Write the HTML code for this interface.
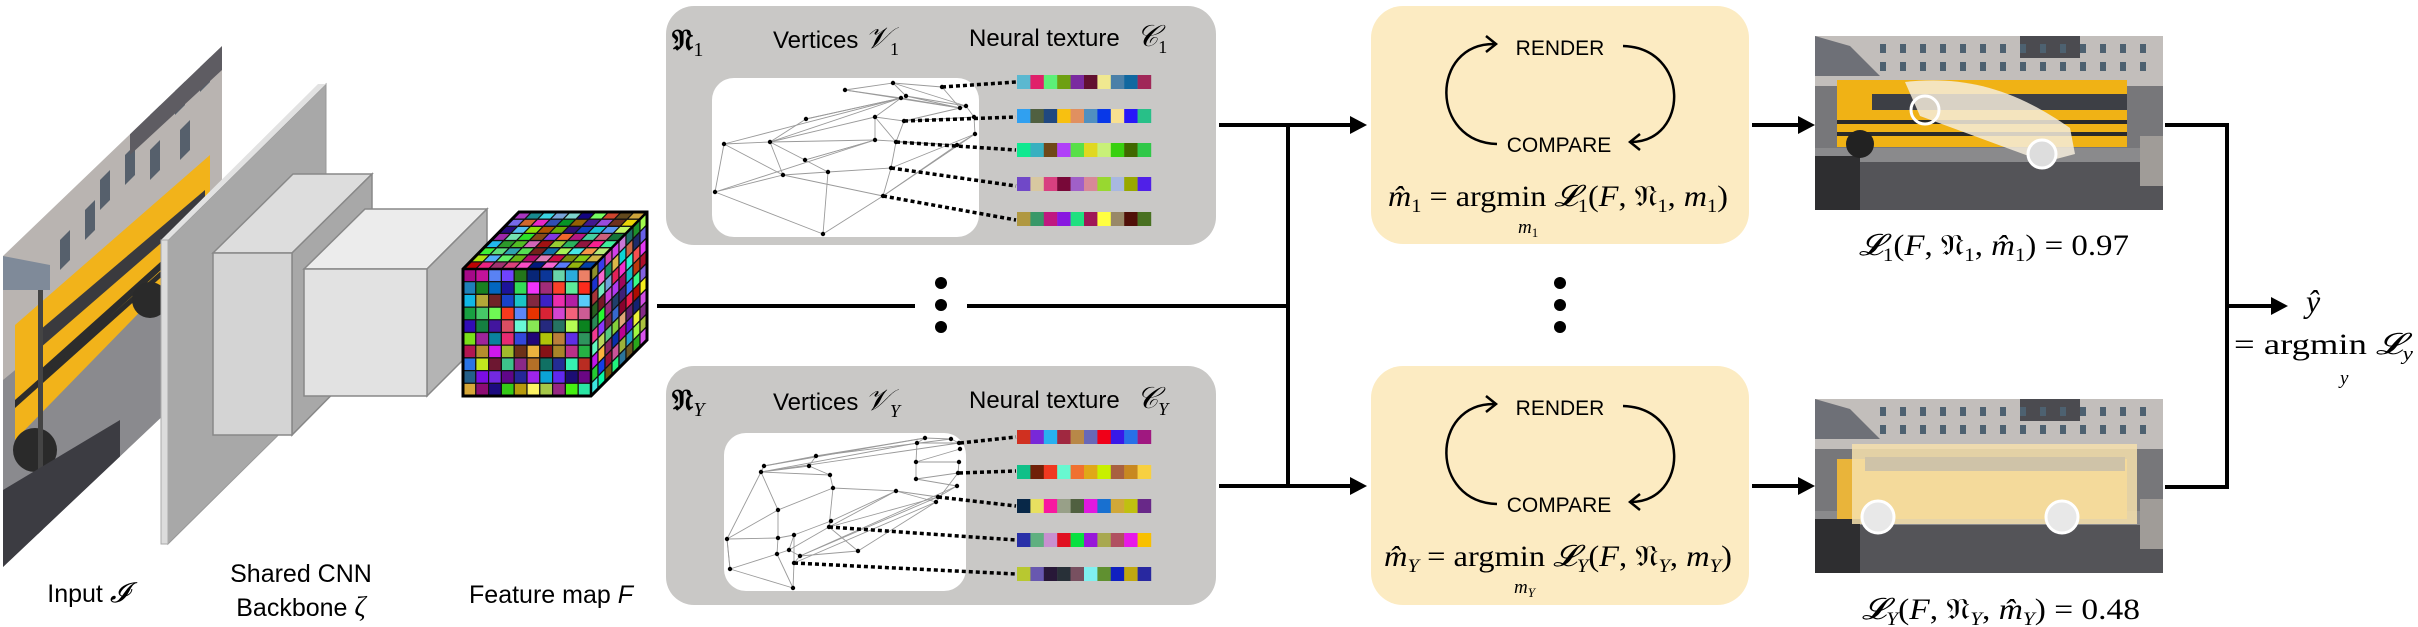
<!DOCTYPE html>
<html><head><meta charset="utf-8"><style>
html,body{margin:0;padding:0;background:#fff;}
svg{display:block;}
.sans{font-family:"Liberation Sans","DejaVu Sans",sans-serif;}
.ser{font-family:"Liberation Serif","DejaVu Serif",serif;}
</style></head><body>
<svg width="2418" height="627" viewBox="0 0 2418 627" xmlns="http://www.w3.org/2000/svg">
<defs>
<clipPath id="inclip"><polygon points="3,256 222,46 222,360 3,567"/></clipPath>
<clipPath id="im1"><rect x="1815" y="36" width="348" height="174"/></clipPath>
<clipPath id="im2"><rect x="1815" y="399" width="348" height="174"/></clipPath>
</defs>

<!-- Input image (perspective) -->
<g clip-path="url(#inclip)">
<rect x="0" y="40" width="230" height="540" fill="#b9b4b1"/>
<g fill="#56606c">
<polygon points="150,105 160,95 160,125 150,135"/><polygon points="175,85 185,75 185,105 175,115"/><polygon points="200,62 210,52 210,82 200,92"/>
<polygon points="100,180 110,170 110,200 100,210"/><polygon points="125,155 135,145 135,175 125,185"/><polygon points="150,150 160,140 160,170 150,180"/>
<polygon points="60,240 70,230 70,260 60,270"/><polygon points="85,210 95,200 95,230 85,240"/><polygon points="180,130 190,120 190,150 180,160"/>
</g>
<polygon points="130,130 222,46 222,70 130,155" fill="#5e5c62"/>
<polygon points="3,380 222,200 222,360 3,567" fill="#8a8a8e"/>
<polygon points="15,325 210,155 210,240 15,440" fill="#f2b31a"/>
<polygon points="40,330 205,190 205,205 40,348" fill="#3a3a3e"/>
<polygon points="40,370 205,222 205,230 40,380" fill="#2c2c2c"/>
<polygon points="15,400 205,232 205,238 15,408" fill="#2c2c2c"/>
<circle cx="35" cy="450" r="22" fill="#2a2a2a"/>
<circle cx="150" cy="300" r="18" fill="#2a2a2a"/>
<polygon points="3,256 50,265 50,290 3,290" fill="#7f8a99"/>
<rect x="38" y="290" width="5" height="250" fill="#444"/>
<polygon points="3,490 120,420 120,560 3,567" fill="#3c3c42"/>
</g>
<!-- Plane -->
<polygon points="168,240 326,84 326,388 168,544" fill="#a8a8a8" stroke="#999" stroke-width="1"/>
<polygon points="161,240 318,84 326,84 168,240" fill="#e2e2e2"/>
<rect x="161" y="240" width="7" height="304" fill="#dcdcdc" stroke="#aaa" stroke-width="1"/>
<!-- Box1 -->
<polygon points="213,253 293,174 372,174 292,253" fill="#dddddd" stroke="#888" stroke-width="1.5"/>
<polygon points="292,253 372,174 372,354 292,435" fill="#a8a8a8" stroke="#888" stroke-width="1.5"/>
<rect x="213" y="253" width="79" height="182" fill="#d4d4d4" stroke="#888" stroke-width="1.5"/>
<!-- Box2 -->
<polygon points="304,269 365,209 487,209 427,269" fill="#ececec" stroke="#888" stroke-width="1.5"/>
<polygon points="427,269 487,209 487,336 427,396" fill="#b4b4b4" stroke="#888" stroke-width="1.5"/>
<rect x="304" y="269" width="123" height="127" fill="#e2e2e2" stroke="#888" stroke-width="1.5"/>
<!-- Cube -->
<g id="cube"></g>

<!-- labels left -->
<text class="sans" x="88" y="602" font-size="25" text-anchor="middle">Input <tspan class="ser" font-style="italic" font-size="28">𝓘</tspan></text>
<text class="sans" x="301" y="582" font-size="25" text-anchor="middle">Shared CNN</text>
<text class="sans" x="301" y="616" font-size="25" text-anchor="middle">Backbone <tspan class="ser" font-style="italic" font-size="28">ζ</tspan></text>
<text class="sans" x="551" y="603" font-size="25" text-anchor="middle">Feature map <tspan font-style="italic">F</tspan></text>

<!-- connectors middle -->
<g stroke="#000" stroke-width="4" fill="none">
<line x1="657" y1="306" x2="915" y2="306"/>
<line x1="967" y1="306" x2="1288" y2="306"/>
<line x1="1219" y1="125" x2="1352" y2="125"/>
<line x1="1219" y1="486" x2="1352" y2="486"/>
<line x1="1288" y1="123" x2="1288" y2="488"/>
<line x1="1752" y1="125" x2="1800" y2="125"/>
<line x1="1752" y1="486" x2="1800" y2="486"/>
<polyline points="2165,125 2227,125 2227,487 2165,487"/>
<line x1="2227" y1="306" x2="2273" y2="306"/>
</g>
<g fill="#000">
<polygon points="1350,116 1367,125 1350,134"/>
<polygon points="1350,477 1367,486 1350,495"/>
<polygon points="1798,116 1815,125 1798,134"/>
<polygon points="1798,477 1815,486 1798,495"/>
<polygon points="2271,297 2288,306 2271,315"/>
<circle cx="941" cy="283" r="6"/><circle cx="941" cy="305" r="6"/><circle cx="941" cy="327" r="6"/>
<circle cx="1560" cy="283" r="6"/><circle cx="1560" cy="305" r="6"/><circle cx="1560" cy="327" r="6"/>
</g>

<!-- Gray boxes -->
<rect x="666" y="6" width="550" height="239" rx="28" fill="#c9c8c6"/>
<rect x="666" y="366" width="550" height="239" rx="28" fill="#c9c8c6"/>
<rect x="712" y="78" width="267" height="159" rx="22" fill="#fff"/>
<rect x="724" y="433" width="242" height="158" rx="22" fill="#fff"/>
<g id="mesh"></g>
<g id="strips"></g>

<text class="ser" x="672" y="50" font-size="30" font-weight="bold">𝔑<tspan font-size="20" dy="6" font-weight="normal">1</tspan></text>
<text class="sans" x="773" y="48" font-size="24">Vertices <tspan class="ser" font-style="italic" font-size="30">𝒱</tspan><tspan class="ser" font-size="18" dy="7">1</tspan></text>
<text class="sans" x="969" y="46" font-size="24">Neural texture <tspan class="ser" font-style="italic" font-size="30" dx="10">𝒞</tspan><tspan class="ser" font-size="18" dy="7">1</tspan></text>
<text class="ser" x="672" y="410" font-size="30" font-weight="bold">𝔑<tspan font-size="20" dy="6" font-weight="normal" font-style="italic">Y</tspan></text>
<text class="sans" x="773" y="410" font-size="24">Vertices <tspan class="ser" font-style="italic" font-size="30">𝒱</tspan><tspan class="ser" font-style="italic" font-size="18" dy="7">Y</tspan></text>
<text class="sans" x="969" y="408" font-size="24">Neural texture <tspan class="ser" font-style="italic" font-size="30" dx="10">𝒞</tspan><tspan class="ser" font-style="italic" font-size="18" dy="7">Y</tspan></text>

<!-- Yellow boxes -->
<rect x="1371" y="6" width="378" height="238" rx="32" fill="#fcebc2"/>
<rect x="1371" y="366" width="378" height="239" rx="32" fill="#fcebc2"/>
<g id="cyc"></g>

<text class="ser" x="1388" y="206" font-size="30" textLength="340" lengthAdjust="spacingAndGlyphs"><tspan font-style="italic">m̂</tspan><tspan font-size="19" dy="6">1</tspan><tspan dy="-6"> = argmin </tspan><tspan font-style="italic">𝓛</tspan><tspan font-size="19" dy="6">1</tspan><tspan dy="-6">(</tspan><tspan font-style="italic">F</tspan>, 𝔑<tspan font-size="19" dy="6">1</tspan><tspan dy="-6">, </tspan><tspan font-style="italic">m</tspan><tspan font-size="19" dy="6">1</tspan><tspan dy="-6">)</tspan></text>
<text class="ser" x="1518" y="233" font-size="19" font-style="italic">m<tspan font-size="13" dy="4" font-style="normal">1</tspan></text>
<text class="ser" x="1384" y="566" font-size="30" textLength="348" lengthAdjust="spacingAndGlyphs"><tspan font-style="italic">m̂</tspan><tspan font-size="19" dy="6" font-style="italic">Y</tspan><tspan dy="-6"> = argmin </tspan><tspan font-style="italic">𝓛</tspan><tspan font-size="19" dy="6" font-style="italic">Y</tspan><tspan dy="-6">(</tspan><tspan font-style="italic">F</tspan>, 𝔑<tspan font-size="19" dy="6" font-style="italic">Y</tspan><tspan dy="-6">, </tspan><tspan font-style="italic">m</tspan><tspan font-size="19" dy="6" font-style="italic">Y</tspan><tspan dy="-6">)</tspan></text>
<text class="ser" x="1514" y="593" font-size="19" font-style="italic">m<tspan font-size="13" dy="4">Y</tspan></text>

<!-- Images -->
<g clip-path="url(#im1)" id="img1"></g>
<g clip-path="url(#im2)" id="img2"></g>

<text class="ser" x="1859" y="255" font-size="30" textLength="270" lengthAdjust="spacingAndGlyphs"><tspan font-style="italic">𝓛</tspan><tspan font-size="19" dy="6">1</tspan><tspan dy="-6">(</tspan><tspan font-style="italic">F</tspan>, 𝔑<tspan font-size="19" dy="6">1</tspan><tspan dy="-6">, </tspan><tspan font-style="italic">m̂</tspan><tspan font-size="19" dy="6">1</tspan><tspan dy="-6">) = 0.97</tspan></text>
<text class="ser" x="1862" y="619" font-size="30" textLength="278" lengthAdjust="spacingAndGlyphs"><tspan font-style="italic">𝓛</tspan><tspan font-size="19" dy="6" font-style="italic">Y</tspan><tspan dy="-6">(</tspan><tspan font-style="italic">F</tspan>, 𝔑<tspan font-size="19" dy="6" font-style="italic">Y</tspan><tspan dy="-6">, </tspan><tspan font-style="italic">m̂</tspan><tspan font-size="19" dy="6" font-style="italic">Y</tspan><tspan dy="-6">) = 0.48</tspan></text>

<text class="ser" x="2306" y="312" font-size="32" font-style="italic">ŷ</text>
<text class="ser" x="2234" y="354" font-size="30" textLength="179" lengthAdjust="spacingAndGlyphs">= argmin <tspan font-style="italic">𝓛</tspan><tspan font-size="19" dy="6" font-style="italic">y</tspan></text>
<text class="ser" x="2340" y="384" font-size="19" font-style="italic">y</text>
</svg>
<script>
const NS="http://www.w3.org/2000/svg";
function el(p,t,a){const e=document.createElementNS(NS,t);for(const k in a)e.setAttribute(k,a[k]);p.appendChild(e);return e;}
let seed=7;function rnd(){seed=(seed*16807)%2147483647;return seed/2147483647;}
function rc(){const h=Math.floor(rnd()*360),s=50+Math.floor(rnd()*50),l=25+Math.floor(rnd()*45);return `hsl(${h},${s}%,${l}%)`;}
const cube=document.getElementById('cube');
const dx=56,dy=-57,n=10,m=8;
el(cube,'polygon',{points:`463,269 519,212 647,212 591,269`,fill:'#000'});
el(cube,'polygon',{points:`591,269 647,212 647,340 591,396`,fill:'#000'});
function quad(g,p0,u,v,i,j,ni,nj){
 const a=[p0[0]+u[0]*i/ni+v[0]*j/nj,p0[1]+u[1]*i/ni+v[1]*j/nj];
 const pts=[[0,0],[1,0],[1,1],[0,1]].map(([a1,b1])=>[a[0]+u[0]*a1/ni+v[0]*b1/nj,a[1]+u[1]*a1/ni+v[1]*b1/nj]);
 el(g,'polygon',{points:pts.map(p=>p.join(',')).join(' '),fill:rc(),stroke:'#111','stroke-width':1.2});
}
for(let i=0;i<n;i++)for(let j=0;j<m;j++)quad(cube,[463,269],[128,0],[dx,dy],i,j,n,m);
for(let i=0;i<m;i++)for(let j=0;j<n;j++)quad(cube,[591,269],[dx,dy],[0,127],i,j,m,n);
for(let i=0;i<n;i++)for(let j=0;j<n;j++)quad(cube,[463,269],[128,0],[0,127],i,j,n,n);
el(cube,'polygon',{points:`463,269 519,212 647,212 647,340 591,396 463,396`,fill:'none',stroke:'#000','stroke-width':3});
el(cube,'polyline',{points:`463,269 591,269 647,212`,fill:'none',stroke:'#000','stroke-width':2.5});
el(cube,'line',{x1:591,y1:269,x2:591,y2:396,stroke:'#000','stroke-width':2.5});
const S=document.getElementById('strips');
const rows=[
["#5bb8d0","#e0206a","#5cf078","#6ea012","#7a2aa0","#621030","#f0e890","#4a80a8","#1068a0","#a02858"],
["#30a0f0","#506040","#204880","#f8c010","#e09060","#5090c0","#0838e8","#f8e090","#2818f8","#28c088"],
["#10e890","#38b0c0","#704818","#b040f8","#58e048","#e0d820","#c8f078","#38d010","#406800","#30c848"],
["#7048c8","#d8c8a0","#d84080","#780838","#a060c8","#d88898","#98d830","#a8b8e0","#98a800","#5020e8"],
["#b09840","#389868","#c01880","#8818e0","#20e080","#a01858","#ffff40","#988868","#501008","#487020"],
["#d03020","#7828d8","#28b0f0","#a02840","#b88848","#6868b8","#f00018","#3818e8","#2870e8","#a01880"],
["#10c088","#702008","#f03820","#68f8d0","#f07030","#e0a818","#c8f000","#a86040","#c88820","#f8d040"],
["#082848","#e8e060","#f818a0","#98a088","#506040","#e018e0","#1870d0","#d0a838","#c0c010","#682888"],
["#2830a8","#60b080","#c890d0","#e01020","#08e040","#9818d8","#a8a850","#b05060","#e818e8","#f8c000"],
["#b8c830","#6858b0","#281838","#283038","#785060","#80f0f0","#609030","#1020c0","#c0a810","#2828a0"]];
const ys=[82,116,150,184,219,437,472,506,540,574];
rows.forEach((r,k)=>r.forEach((c,i)=>el(S,'rect',{x:1017+i*13.4,y:ys[k]-7,width:13.6,height:14,fill:c})));
const M=document.getElementById('mesh');
const V1=[[845,90],[893,83],[906,96],[901,98],[960,108],[966,106],[806,119],[875,117],[904,121],[974,117],[975,134],[724,144],[770,142],[875,140],[896,142],[957,145],[805,160],[891,168],[783,175],[828,172],[715,192],[883,196],[823,234],[942,87]];
const E1="0-1,0-3,1-2,1-23,23-4,2-4,3-4,0-4,1-5,2-5,3-6,6-12,6-3,12-3,11-12,11-3,11-20,11-18,12-18,12-16,12-7,7-3,7-8,7-13,8-9,8-4,13-15,13-16,14-15,14-8,14-17,15-10,10-9,9-5,5-4,10-17,16-19,19-18,18-20,20-22,19-22,19-17,17-21,21-22,21-10,16-13,18-21,20-13,12-13,14-7,15-21";
const V2=[[764,466],[816,456],[925,438],[951,439],[917,443],[959,443],[960,449],[809,466],[761,472],[916,462],[959,462],[830,475],[958,473],[916,479],[833,488],[957,486],[896,491],[938,497],[936,502],[778,510],[831,521],[829,527],[727,539],[778,538],[794,535],[789,550],[777,554],[800,556],[858,551],[730,569],[794,563],[793,588]];
const E2="0-1,1-2,0-2,1-3,2-3,3-5,4-5,4-2,0-8,7-8,7-1,7-11,8-11,8-5,8-4,4-9,9-10,9-6,10-12,12-13,13-9,13-15,15-17,17-16,16-18,18-12,11-14,14-16,14-19,19-8,19-22,8-22,22-23,22-29,23-24,24-20,20-21,21-14,21-16,21-28,28-18,28-27,27-25,25-26,26-29,29-31,31-30,30-27,24-25,26-23,20-16,21-17,30-18,27-17,25-21,23-19,29-22,30-24,27-15,26-31";
function mesh(V,E){E.split(',').forEach(s=>{const [a,b]=s.split('-').map(Number);el(M,'line',{x1:V[a][0],y1:V[a][1],x2:V[b][0],y2:V[b][1],stroke:'#9a9a9a','stroke-width':0.9});});
V.forEach(p=>el(M,'circle',{cx:p[0],cy:p[1],r:2.2,fill:'#000'}));}
mesh(V1,E1);mesh(V2,E2);
const D=[[942,87,1016,82],[904,121,1016,117],[896,142,1016,150],[891,168,1016,186],[883,196,1016,220],[960,443,1016,437],[959,473,1016,471],[938,497,1016,506],[829,527,1016,540],[794,563,1016,574]];
D.forEach(d=>el(M,'line',{x1:d[0],y1:d[1],x2:d[2],y2:d[3],stroke:'#000','stroke-width':3.5,'stroke-dasharray':'4 3'}));
const C=document.getElementById('cyc');
[0,360].forEach(o=>{
 el(C,'text',{x:1560,y:55+o,'font-size':21,'text-anchor':'middle',class:'sans'}).textContent='RENDER';
 el(C,'text',{x:1559,y:152+o,'font-size':21,'text-anchor':'middle',class:'sans'}).textContent='COMPARE';
 el(C,'path',{d:`M1497 ${144+o} C1430 ${142+o} 1430 ${44+o} 1494 ${44+o}`,fill:'none',stroke:'#000','stroke-width':2.5});
 el(C,'path',{d:`M1486 ${36+o} L1496 ${44+o} L1486 ${52+o}`,fill:'none',stroke:'#000','stroke-width':2.5});
 el(C,'path',{d:`M1623 ${46+o} C1690 ${48+o} 1690 ${142+o} 1630 ${142+o}`,fill:'none',stroke:'#000','stroke-width':2.5});
 el(C,'path',{d:`M1640 ${134+o} L1630 ${142+o} L1640 ${150+o}`,fill:'none',stroke:'#000','stroke-width':2.5});
});
function scene(g,y0,faded){
 el(g,'rect',{x:1815,y:y0,width:348,height:174,fill:'#77777a'});
 el(g,'rect',{x:1815,y:y0,width:348,height:50,fill:'#c2bebb'});
 el(g,'rect',{x:2020,y:y0,width:60,height:22,fill:'#4b4b50'});
 for(let i=0;i<14;i++)el(g,'rect',{x:1880+i*20,y:y0+8,width:6,height:9,fill:'#4d6170'});
 for(let i=0;i<14;i++)el(g,'rect',{x:1880+i*20,y:y0+26,width:6,height:9,fill:'#4d6170'});
 el(g,'rect',{x:1815,y:y0+118,width:348,height:56,fill:'#545458'});
 el(g,'rect',{x:1815,y:y0+112,width:348,height:14,fill:'#8a8a8c'});
 el(g,'polygon',{points:`1815,${y0} 1850,${y0+10} 1880,${y0+40} 1815,${y0+40}`,fill:'#6e7077'});
 el(g,'rect',{x:2140,y:y0+100,width:23,height:50,fill:'#a09c98'});
 el(g,'rect',{x:1815,y:y0+120,width:45,height:54,fill:'#2e2e30'});
 if(!faded){
  el(g,'rect',{x:1837,y:y0+44,width:290,height:67,fill:'#f0b215'});
  el(g,'rect',{x:1872,y:y0+58,width:255,height:16,fill:'#3d3f45'});
  el(g,'rect',{x:1837,y:y0+84,width:290,height:4,fill:'#2a2a2a'});
  el(g,'rect',{x:1837,y:y0+96,width:290,height:4,fill:'#2a2a2a'});
  el(g,'circle',{cx:1860,cy:y0+108,r:14,fill:'#222'});
  el(g,'path',{d:`M1905 ${y0+46} C1960 ${y0+40} 2010 ${y0+50} 2070 ${y0+92} L2075 ${y0+118} L2045 ${y0+126} L1920 ${y0+80} Z`,fill:'#f4ecdc','fill-opacity':0.85});
  el(g,'circle',{cx:1925,cy:y0+74,r:14,fill:'none',stroke:'#fff','stroke-width':3});
  el(g,'circle',{cx:2042,cy:y0+118,r:14,fill:'#ddd',stroke:'#fff','stroke-width':3});
 } else {
  el(g,'rect',{x:1837,y:y0+60,width:290,height:60,fill:'#e9b43a'});
  el(g,'rect',{x:1852,y:y0+45,width:285,height:80,fill:'#f6e0ad','fill-opacity':0.85});
  el(g,'rect',{x:1865,y:y0+58,width:260,height:14,fill:'#cfc3a8'});
  el(g,'circle',{cx:1878,cy:y0+118,r:16,fill:'#e8e8e8',stroke:'#fff','stroke-width':3});
  el(g,'circle',{cx:2062,cy:y0+118,r:16,fill:'#e8e8e8',stroke:'#fff','stroke-width':3});
 }
}
scene(document.getElementById('img1'),36,false);
scene(document.getElementById('img2'),399,true);
</script>
</body></html>
